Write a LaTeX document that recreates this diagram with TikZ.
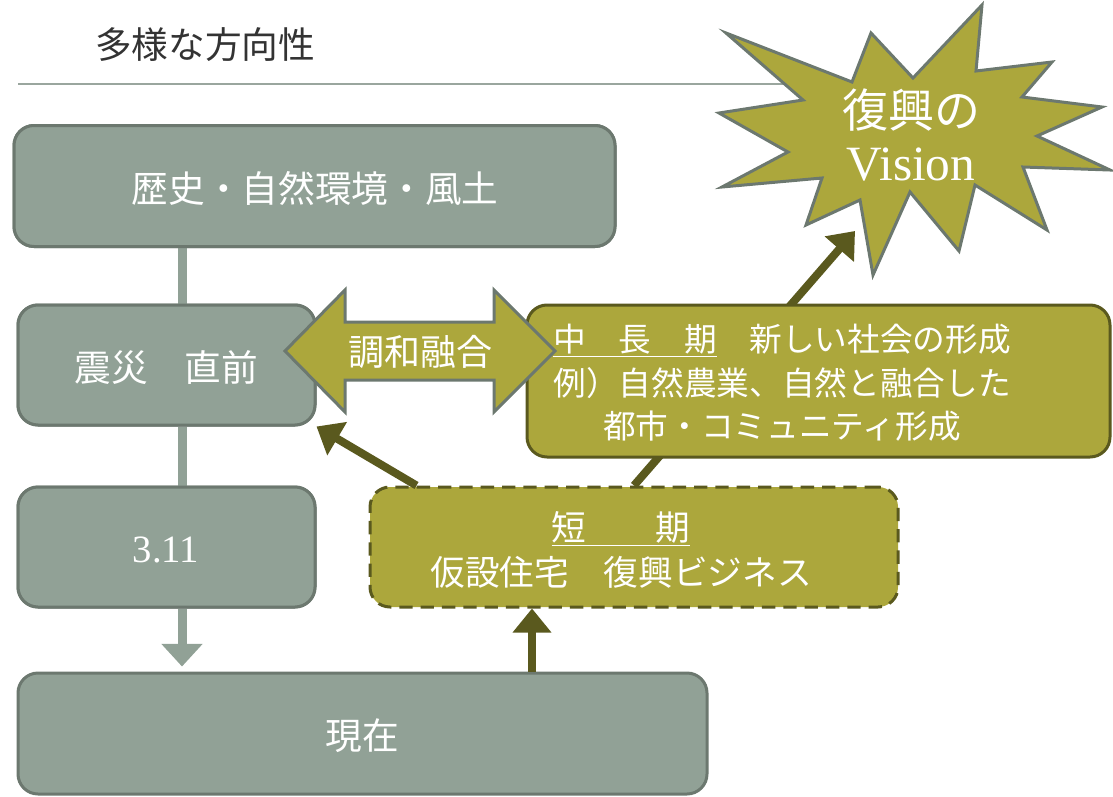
\documentclass[tikz,border=0pt]{standalone}
\usepackage{fontspec}
\setmainfont{Liberation Serif}
\newfontfamily\jp{Noto Sans CJK JP}
\usetikzlibrary{arrows.meta,calc}
\definecolor{gfill}{HTML}{91A196}
\definecolor{gborder}{HTML}{6C786F}
\definecolor{ofill}{HTML}{ACA73C}
\definecolor{odark}{HTML}{5A591E}
\definecolor{titlec}{HTML}{333333}
\definecolor{rulec}{HTML}{9AA69E}
\tikzset{
  greybox/.style={draw=gborder, fill=gfill, line width=2.25pt, rounded corners=15pt, inner sep=0pt},
  olivebox/.style={draw=odark, fill=ofill, line width=2.25pt, rounded corners=15pt, inner sep=0pt},
  dashbox/.style={olivebox, dash pattern=on 10pt off 6pt},
  wtext/.style={text=white, inner sep=0pt, align=center},
  gconn/.style={draw=gfill, line width=6.75pt},
  garrow/.style={gconn, -{Triangle[width=30pt,length=17pt]}},
  oarrow/.style={draw=odark, line width=6pt, -{Triangle[width=28pt,length=18pt]}},
  starshape/.style={draw=gborder, fill=ofill, line width=2.25pt, line join=miter},
  dblarrow/.style={draw=gborder, fill=ofill, line width=2.25pt, line join=miter}
}
\begin{document}
\begin{tikzpicture}[x=0.75pt,y=-0.75pt]
\useasboundingbox (0,0) rectangle (1113,796);
% title
\node[text=titlec, font=\jp\fontsize{27.5}{32}\selectfont, anchor=west, inner sep=0pt] (title) at (95,45) {多様な方向性};
\coordinate (ruleL) at (18,84);
\coordinate (ruleR) at (800,84);
\draw[rulec, line width=1.8pt] (ruleL) -- (ruleR);

% coordinates for connector columns
\coordinate (gx) at (182,0);
\coordinate (ax) at (532,0);
\coordinate (startip) at (855,231);

% boxes (geometry only)
\path (314.5,186) node[greybox, minimum width=450.75pt, minimum height=90.75pt] (hist) {};
\path (166.5,365) node[greybox, minimum width=222.75pt, minimum height=90pt] (zsai) {};
\path (166.5,547) node[greybox, minimum width=222.75pt, minimum height=90pt] (b311) {};
\path (362.5,733.5) node[greybox, minimum width=516.75pt, minimum height=90.75pt] (now) {};

% grey connectors
\draw[gconn] (hist.south -| gx) -- (zsai.north -| gx);
\draw[gconn] (zsai.south -| gx) -- (b311.north -| gx);
\draw[garrow, shorten >=3.75pt] (b311.south -| gx) -- (now.north -| gx);

% short-term box
\path (634,547) node[dashbox, minimum width=396pt, minimum height=90pt] (short) {};

% long arrow from short-term to the vision (behind mid box)
\draw[oarrow] (short.north) -- (startip);

% mid/long-term box
\path (818.5,381) node[olivebox, minimum width=437.25pt, minimum height=114pt] (mid) {};

% redraw grey boxes over the connector ends
\path (314.5,186) node[greybox, minimum width=450.75pt, minimum height=90.75pt] {};
\path (166.5,365) node[greybox, minimum width=222.75pt, minimum height=90pt] {};
\path (166.5,547) node[greybox, minimum width=222.75pt, minimum height=90pt] {};

% star
\draw[starshape] (726,33) -- (852,82) -- (871,33) -- (913,78) -- (982,5) -- (976,71)
  -- (1052,62) -- (1022,97) -- (1102,107) -- (1037,136) -- (1110,170) -- (1023,167)
  -- (1047,230) -- (975,185) -- (959,251) -- (910,192) -- (873,275) -- (860,200)
  -- (806,225) -- (822,178) -- (722,187) -- (788,152) -- (719,113) -- (803,100) -- cycle;
\node[wtext, font=\fontsize{37}{40}\selectfont] (vision) at (911,135) {{\jp\fontsize{34.5}{40}\selectfont 復興の}\\{\fontsize{37}{40}\selectfont Vision}};

% double arrow
\draw[dblarrow] (285,351) -- (345,290) -- (345,322) -- (494,322) -- (494,290) -- (555,351)
  -- (494,412) -- (494,380) -- (345,380) -- (345,412) -- cycle;
\node[wtext, font=\jp\fontsize{27}{32}\selectfont] (harmony) at (420,352) {調和融合};

% other arrows
\draw[oarrow] ($(short.north west)+(48,0)$) -- (zsai.south east);
\draw[oarrow] (now.north -| ax) -- (short.south -| ax);

% texts
\node[wtext, font=\jp\fontsize{27.5}{32}\selectfont] (histtext) at (315,188) {歴史・自然環境・風土};
\node[wtext, font=\jp\fontsize{27.5}{32}\selectfont] (zsaitext) at (166,368) {震災　直前};
\node[wtext, font=\fontsize{29}{32}\selectfont] (b311text) at (166,550) {3.11};
\node[wtext, font=\jp\fontsize{27.5}{32}\selectfont] (nowtext) at (362,736) {現在};
\node[wtext, font=\jp\fontsize{24.5}{32.6}\selectfont] (midtext) at (782,383)
  {\underline{中　長　期}　新しい社会の形成\\例）自然農業、自然と融合した\\都市・コミュニティ形成};
\node[wtext, font=\jp\fontsize{26}{34}\selectfont] (shorttext) at (621,550)
  {\underline{短　　期}\\仮設住宅　復興ビジネス};
\end{tikzpicture}
\end{document}
